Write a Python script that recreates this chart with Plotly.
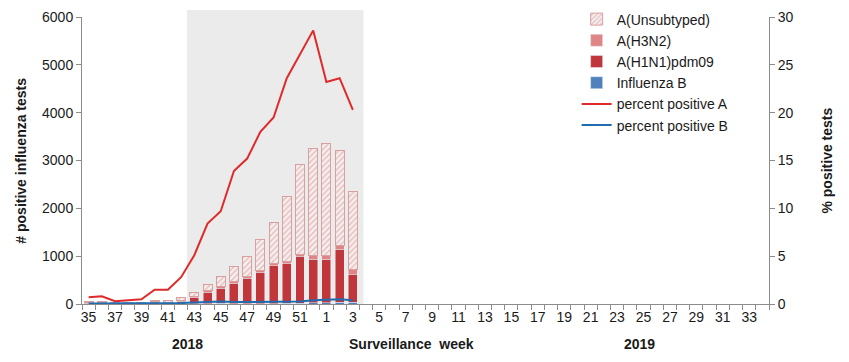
import plotly.graph_objects as go

weeks = list(range(35, 53)) + list(range(1, 35))
tick_labels = [str(w) if i % 2 == 0 else "" for i, w in enumerate(weeks)]

unsubtyped = [20, 20, 17, 15, 12, 35, 50, 65, 90, 143, 220, 325, 425, 655, 855, 1365, 1870, 2245, 2330, 1975, 1640]
h3n2 = [20, 30, 10, 10, 8, 30, 20, 35, 25, 25, 25, 30, 30, 35, 50, 40, 50, 80, 80, 90, 110]
h1n1 = [5, 5, 3, 5, 5, 15, 10, 40, 120, 237, 320, 425, 530, 655, 790, 830, 980, 910, 910, 1100, 570]
flu_b = [3, 3, 3, 3, 3, 3, 3, 5, 8, 10, 12, 10, 10, 10, 10, 12, 15, 25, 30, 40, 40]
pct_a = [0.7, 0.8, 0.3, 0.4, 0.5, 1.5, 1.5, 2.8, 5.1, 8.4, 9.7, 13.9, 15.2, 18.0, 19.5, 23.6, 26.1, 28.6, 23.2, 23.6, 20.3]
pct_b = [0.05, 0.05, 0.05, 0.1, 0.1, 0.1, 0.1, 0.1, 0.15, 0.2, 0.25, 0.2, 0.2, 0.2, 0.2, 0.2, 0.25, 0.4, 0.45, 0.5, 0.4]

n = len(unsubtyped)
xs = list(range(n))
FONT = "Liberation Sans, Arial, sans-serif"

fig = go.Figure()
fig.add_trace(go.Bar(x=xs, y=flu_b, name="Influenza B", marker=dict(color="#4f81bd"), legendrank=4))
fig.add_trace(go.Bar(x=xs, y=h1n1, name="A(H1N1)pdm09", marker=dict(color="#c0363a"), legendrank=3))
fig.add_trace(go.Bar(x=xs, y=h3n2, name="A(H3N2)", marker=dict(color="#e08585"), legendrank=2))
fig.add_trace(go.Bar(x=xs, y=unsubtyped, name="A(Unsubtyped)", legendrank=1,
                     marker=dict(color="#f8eeee", line=dict(color="#d9a0a0", width=1),
                                 pattern=dict(shape="/", fgcolor="#c98b8b", size=4, solidity=0.35,
                                              fillmode="overlay"))))
fig.add_trace(go.Scatter(x=xs, y=pct_a, name="percent positive A", yaxis="y2", mode="lines",
                         line=dict(color="#e02a2a", width=2), legendrank=5))
fig.add_trace(go.Scatter(x=xs, y=pct_b, name="percent positive B", yaxis="y2", mode="lines",
                         line=dict(color="#1f6cb0", width=2), legendrank=6))

fig.add_shape(type="rect", xref="x", yref="paper", x0=7.45, x1=20.8, y0=0, y1=1.024,
              fillcolor="#ebebeb", line=dict(width=0), layer="below")

fig.update_layout(
    width=849, height=362,
    margin=dict(l=82, r=80, t=17, b=58, autoexpand=False),
    paper_bgcolor="white", plot_bgcolor="white",
    barmode="stack", bargap=0.32,
    font=dict(family=FONT, size=14, color="#1a1a1a"),
    showlegend=True,
    legend=dict(x=0.72, y=1.047, xanchor="left", yanchor="top", bgcolor="rgba(0,0,0,0)",
                traceorder="normal", font=dict(size=14), tracegroupgap=0, itemwidth=30),
    xaxis=dict(range=[-0.5, len(weeks) - 0.5], tickmode="array", tickvals=list(range(len(weeks))),
               ticktext=tick_labels, ticks="", showgrid=False, zeroline=False,
               showline=True, linecolor="#8c8c8c", linewidth=1,
               tickfont=dict(size=14), tickangle=0,
               minor=dict(tickmode="linear", tick0=-0.5, dtick=1, ticks="outside", ticklen=5,
                          tickcolor="#8c8c8c", showgrid=False)),
    yaxis=dict(range=[0, 6000], tickmode="linear", tick0=0, dtick=1000, showgrid=False,
               zeroline=False, showline=True, linecolor="#8c8c8c", ticks="outside", ticklen=5,
               tickcolor="#8c8c8c", tickfont=dict(size=14)),
    yaxis2=dict(range=[0, 30], tickmode="linear", tick0=0, dtick=5, overlaying="y", side="right",
                showgrid=False, zeroline=False, showline=True, linecolor="#8c8c8c",
                ticks="outside", ticklen=5, tickcolor="#8c8c8c", tickfont=dict(size=14)),
)

annotations = [
    dict(text="<b># positive influenza tests</b>", x=-0.090, y=0.5, textangle=-90),
    dict(text="<b>% positive tests</b>", x=1.083, y=0.5, textangle=-90),
    dict(text="<b>2018</b>", x=0.154, y=-0.139),
    dict(text="<b>Surveillance  week</b>", x=0.480, y=-0.139),
    dict(text="<b>2019</b>", x=0.812, y=-0.139),
]
for a in annotations:
    fig.add_annotation(xref="paper", yref="paper", showarrow=False, xanchor="center", yanchor="middle",
                       font=dict(size=14, family=FONT, color="#1a1a1a"), **a)

fig.write_html("out.html", config={"displayModeBar": False},
               post_script="document.body.style.margin='0';")
